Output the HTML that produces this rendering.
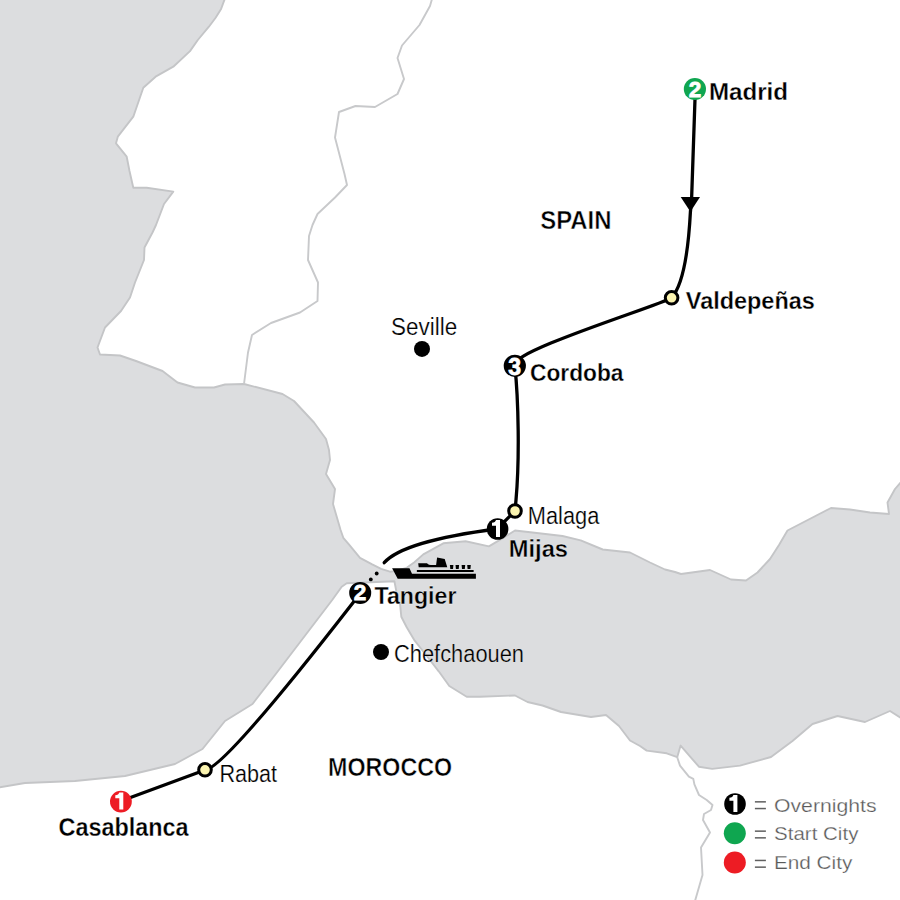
<!DOCTYPE html>
<html><head><meta charset="utf-8"><style>
html,body{margin:0;padding:0;background:#fff;width:900px;height:900px;overflow:hidden}
svg{display:block}
text{font-family:"Liberation Sans",sans-serif}
.b{font-weight:bold;fill:#000;stroke:#fff;stroke-width:0.3px}
.r{fill:#000;stroke:#fff;stroke-width:0.22px}
.lg{fill:#5a5a5a;font-size:18.5px;stroke:#fff;stroke-width:0.25px}
</style></head><body>
<svg width="900" height="900" viewBox="0 0 900 900">
<rect width="900" height="900" fill="#fff"/>
<!-- sea -->
<path fill="#dcdddf" stroke="#c4c5c7" stroke-width="1.9" stroke-linejoin="round" d="
M-2,-2 L225.5,-2 L224.4,0 L221.1,8.9 L215.6,17.8 L208.9,26.7 L197.8,40 L190,51.1 L173.3,66.7 L155.6,76.7 L143.3,87.8 L133.3,116.7 L117.8,136.7 L116,143.3 L126.7,156.7 L129.5,171 L133.3,187.8 L146.7,187.8 L173.3,191.6 L164,204 L156,225 L152.5,232.5 L144.5,247.5 L144,260 L135,282.5 L130,297.5 L121,311 L105,327.5 L97.5,347.5 L100,354.5 L120,355.5 L136,361 L162.5,371 L177.5,382.5 L195,387.5 L214,387.5 L225,384.5 L244,384 L282.5,394 L294,401 L314,422.5 L326,439 L329,450 L330,460 L326,474 L335,489 L333,504 L340.6,530 L343.3,537.8 L348.9,544.4 L360,557.8 L372.2,564.4 L381.1,568.9 L390,571.7 L394.4,571.1
L406.7,567.8 L414.4,562.2 L423.3,554.4 L443.3,543.3 L465.6,541.3 L488.9,546.4 L497.8,541.1 L515,530.5 L532.5,532.5 L562.5,536 L580.7,540.3 L602.7,549.5 L630,552.5 L650,562.5 L665,569.5 L675,572 L681,574 L710,570 L731,579.5 L746,580.5 L757.5,572.5 L770,559 L779,545 L787.5,530.5 L831,508 L850,509.5 L870,512.5 L889,514 L887.5,502.5 L895,489 L901,482
L901,718 L890,711 L865,722 L837.5,716 L812.5,724 L792.5,741 L771,757 L740,765.6 L712.2,768.9 L698.9,766.7 L680.6,745.6 L677.2,757.2 L666.7,753.3 L646.7,750.6 L640,746 L630,740.5 L619,726 L606,715 L591,717 L561,712 L542.5,705.5 L527.5,702 L515,695.5 L480,696.7 L466.7,696.7 L449.3,686 L438.7,671.3 L425.3,654 L414.7,640.7 L406.7,627.3 L401.3,616.7 L400,603.3 L396.7,600 L396.1,590 L394.4,581.3 L346.7,583.3 L341.7,586.7 L332.2,600 L275,675 L252.5,704 L225,721 L202.5,749 L175,764 L125,776 L75,781 L25,783 L-2,787.5 L-2,-2 Z"/>
<!-- borders -->
<path fill="none" stroke="#c8c9cb" stroke-width="1.9" stroke-linejoin="round" d="M432,-1 L430,6 L419.5,25 L402,45.5 L397.5,58 L404,79 L397.5,94 L375,107 L355.5,106 L339,112 L335,137.5 L344.5,174 L347,185 L335,197.5 L317.5,214 L312.5,225 L309,236 L308,260 L318,282.5 L317.5,301 L300,312.5 L271,323 L252,335 L248,352.5 L244,384"/>
<path fill="none" stroke="#c8c9cb" stroke-width="1.9" stroke-linejoin="round" d="M677.2,757.2 L680,765.6 L688.9,776.7 L693.3,778.9 L694.4,784.4 L699,795 L706.7,800 L712.5,805 L711,810 L704,814 L703,820 L710,832.5 L701,847.5 L702.5,875 L695,901"/>

<!-- route -->
<g fill="none" stroke="#000" stroke-width="3.3" stroke-linecap="round" stroke-linejoin="round">
<path d="M695,99 L691.6,199 L690.4,212 C688.4,250.3 682.8,285.2 671.6,297.8"/>
<path d="M671.6,297.8 C660.4,305.2 505.6,352.5 514.8,365.8 C518.6,400 519.6,460 516,500 L515,511 L497,529"/>
<path d="M497,529 C450,535 400,545 384.2,562.7"/>
<path d="M360.5,593 C348.8,607.7 226,768.8 205,770 L121,801"/>
</g>
<!-- arrow -->
<path d="M680.7,197.1 L700,197.1 L690.4,211.8 Z" fill="#000"/>
<!-- dotted strait -->
<g fill="#000">
<circle cx="376.7" cy="573.5" r="1.9"/>
<circle cx="370.8" cy="579.4" r="1.9"/>
</g>

<!-- ship -->
<g fill="#000">
<path d="M392.1,568.2 L409.5,568.2 L412,573.7 L475.9,573.7 L475.9,578.8 L397.7,578.8 Z"/>
<path d="M417.1,569.9 L473.4,569.9 Q474.4,570.9 473.4,571.9 L417.1,571.9 Q416.1,570.9 417.1,569.9 Z"/>
<path d="M418.2,563.2 L426.9,563.2 Q429,565.1 431,565.1 L436.1,565.1 L437.1,557.6 L444.7,559 L447.3,567.3 L418.7,567.3 Z"/>
<path d="M449.9,565.1 L453.4,565.1 L453,568.9 L450.3,568.9 Z"/>
<path d="M455.5,565.1 L459.1,565.1 L458.7,568.9 L455.9,568.9 Z"/>
<path d="M461.6,565.1 L465.2,565.1 L464.8,568.9 L462,568.9 Z"/>
<path d="M467.2,565.1 L470.8,565.1 L470.4,568.9 L467.6,568.9 Z"/>
</g>

<!-- markers -->
<g stroke="#000" stroke-width="3">
<circle cx="671.6" cy="297.8" r="6.3" fill="#fbf4b0"/>
<circle cx="515" cy="511" r="6.3" fill="#fbf4b0"/>
<circle cx="205" cy="769.8" r="6.3" fill="#fbf4b0"/>
</g>
<circle cx="694.9" cy="89" r="11.1" fill="#0fa650"/>
<circle cx="514.8" cy="365.8" r="11.1" fill="#000"/>
<circle cx="497.6" cy="529" r="10.8" fill="#000"/>
<circle cx="360.2" cy="592.9" r="11" fill="#000"/>
<circle cx="120.9" cy="801.6" r="10.9" fill="#ed1c24"/>
<circle cx="422" cy="348.9" r="8" fill="#000"/>
<circle cx="381" cy="652" r="8" fill="#000"/>
<circle cx="735" cy="804" r="10.8" fill="#000"/>
<circle cx="734.8" cy="833.2" r="11" fill="#0fa650"/>
<circle cx="734.8" cy="862.5" r="11" fill="#ed1c24"/>

<!-- marker numbers -->
<g fill="#fff">
<path d="M496.00,520.00 L500.00,520.00 L500.00,537.00 L496.00,537.00 L496.00,525.70 L492.00,525.70 L492.00,522.80 Q495.40,522.50 496.00,520.00 Z"/>
<path d="M119.30,792.50 L123.30,792.50 L123.30,809.50 L119.30,809.50 L119.30,798.20 L115.30,798.20 L115.30,795.30 Q118.70,795.00 119.30,792.50 Z"/>
<path d="M733.40,795.00 L737.40,795.00 L737.40,812.00 L733.40,812.00 L733.40,800.70 L729.40,800.70 L729.40,797.80 Q732.80,797.50 733.40,795.00 Z"/>
</g>
<g fill="#fff" stroke="#fff" stroke-width="0.8" font-weight="bold" text-anchor="middle" font-size="24">
<text x="694.9" y="96.5" font-size="22.5">2</text>
<text x="514.6" y="374.6" font-size="23">3</text>
<text x="360" y="600.2" font-size="22.5">2</text>
</g>

<!-- labels -->
<text class="b" x="708.9" y="99.6" font-size="24" textLength="79.1" lengthAdjust="spacingAndGlyphs">Madrid</text>
<text class="b" style="stroke-width:0.5px" x="540.2" y="229" font-size="26.3" textLength="71.3" lengthAdjust="spacingAndGlyphs">SPAIN</text>
<text class="b" x="685.8" y="309" font-size="24" textLength="129.0" lengthAdjust="spacingAndGlyphs">Valdepeñas</text>
<text class="r" x="391.0" y="335" font-size="23" textLength="66.2" lengthAdjust="spacingAndGlyphs">Seville</text>
<text class="b" x="530.0" y="381" font-size="24" textLength="93.5" lengthAdjust="spacingAndGlyphs">Cordoba</text>
<text class="r" x="527.8" y="523.5" font-size="23" textLength="71.5" lengthAdjust="spacingAndGlyphs">Malaga</text>
<text class="b" x="508.8" y="556.5" font-size="24" textLength="59.2" lengthAdjust="spacingAndGlyphs">Mijas</text>
<text class="b" x="374.6" y="604" font-size="24" textLength="81.8" lengthAdjust="spacingAndGlyphs">Tangier</text>
<text class="r" x="394.0" y="662" font-size="23" textLength="130.0" lengthAdjust="spacingAndGlyphs">Chefchaouen</text>
<text class="r" x="219.4" y="781.7" font-size="23" textLength="57.7" lengthAdjust="spacingAndGlyphs">Rabat</text>
<text class="b" style="stroke-width:0.5px" x="328.1" y="775.9" font-size="25.8" textLength="124.0" lengthAdjust="spacingAndGlyphs">MOROCCO</text>
<text class="b" x="58.6" y="835.5" font-size="25" textLength="130.0" lengthAdjust="spacingAndGlyphs">Casablanca</text>

<!-- legend -->
<g fill="#606060">
<rect x="754.9" y="801.1" width="11" height="1.5"/>
<rect x="754.9" y="807.8" width="11" height="1.5"/>
<rect x="754.9" y="830.4" width="11" height="1.5"/>
<rect x="754.9" y="837.1" width="11" height="1.5"/>
<rect x="754.9" y="859.7" width="11" height="1.5"/>
<rect x="754.9" y="866.4" width="11" height="1.5"/>
</g>
<text class="lg" x="774.0" y="811.5" textLength="102.6" lengthAdjust="spacingAndGlyphs">Overnights</text>
<text class="lg" x="774.0" y="839.8" textLength="84.4" lengthAdjust="spacingAndGlyphs">Start City</text>
<text class="lg" x="773.9" y="869.1" textLength="78.5" lengthAdjust="spacingAndGlyphs">End City</text>
</svg>
</body></html>
